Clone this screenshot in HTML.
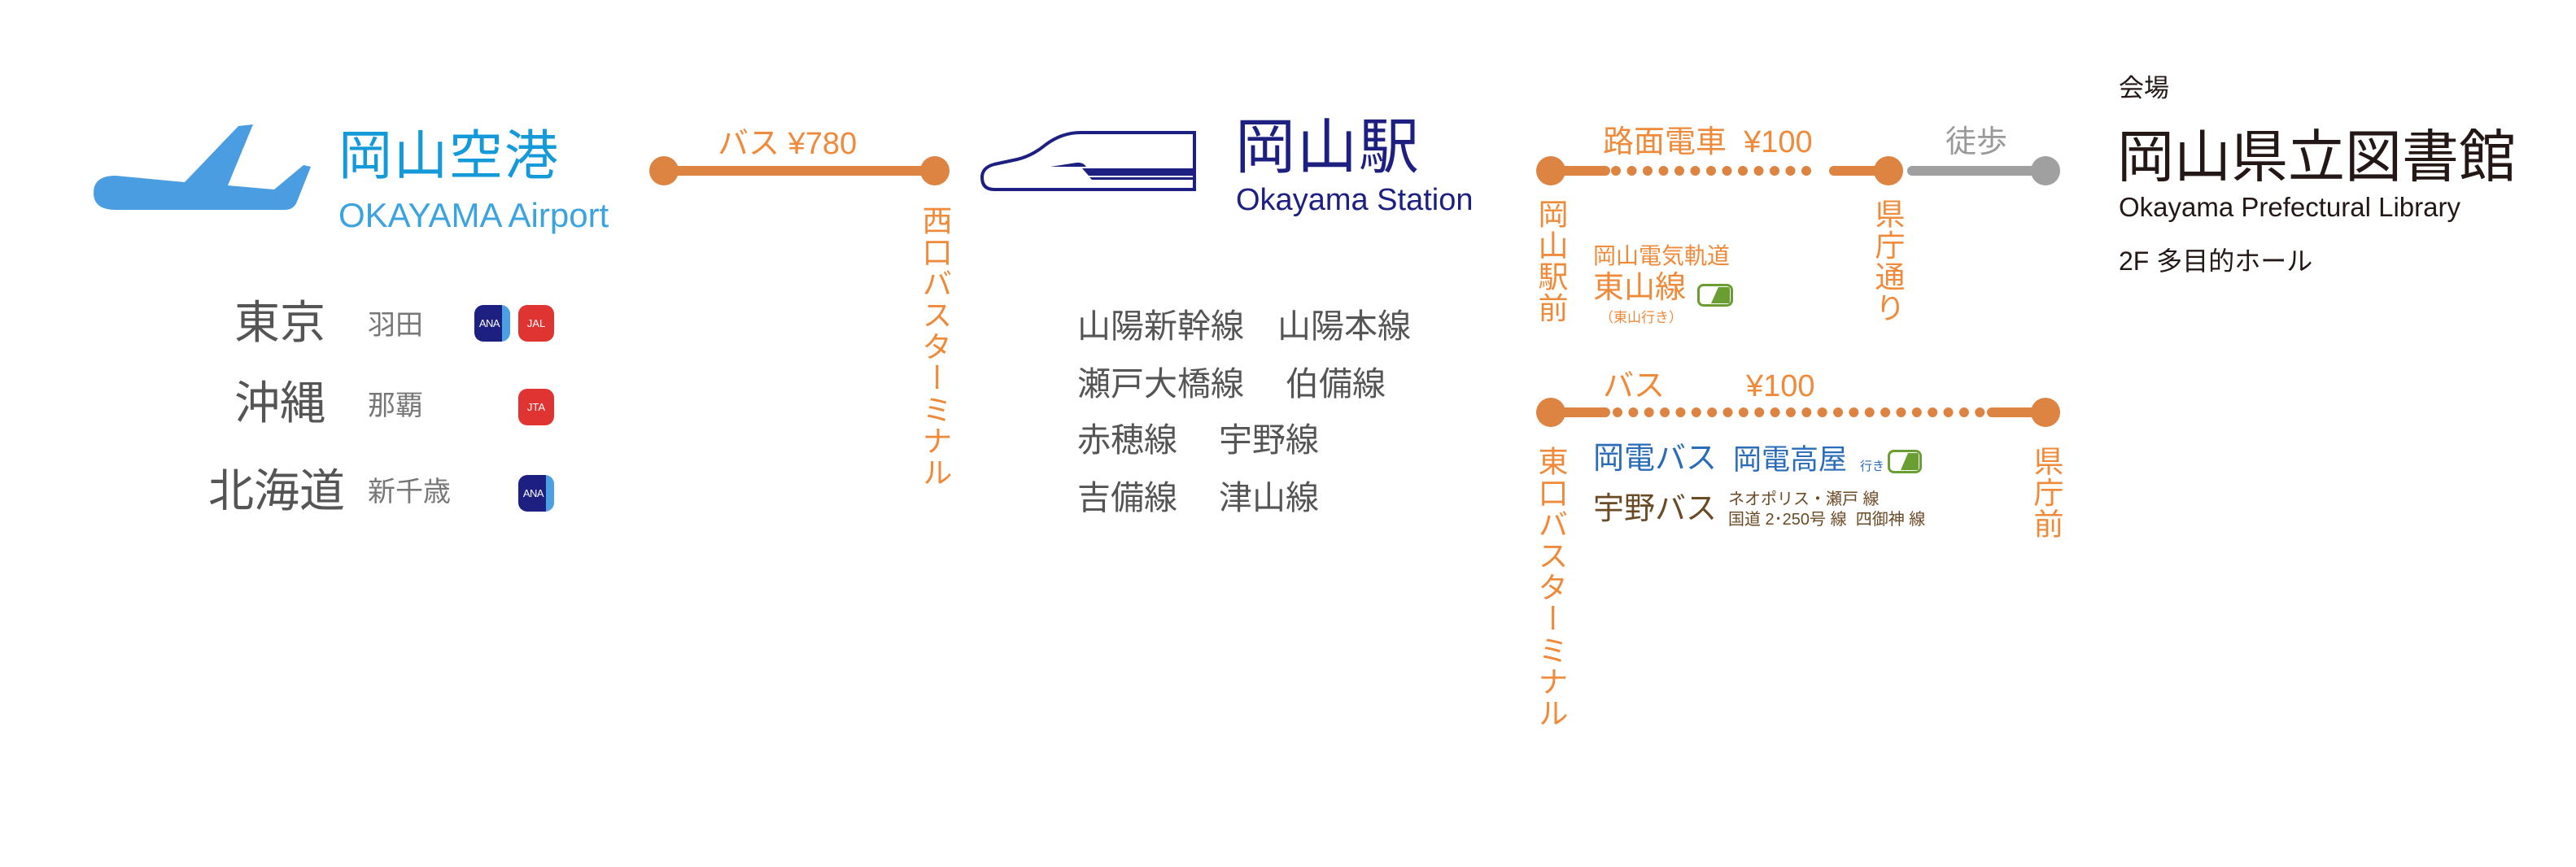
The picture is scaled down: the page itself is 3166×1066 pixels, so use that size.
<!DOCTYPE html>
<html><head><meta charset="utf-8">
<style>
html,body{margin:0;padding:0;background:#fff;}
body{width:3166px;height:1066px;position:relative;overflow:hidden;font-family:"Liberation Sans","Noto Sans CJK JP",sans-serif;}
.t{position:absolute;white-space:nowrap;line-height:1;}
.v{position:absolute;writing-mode:vertical-rl;text-orientation:upright;line-height:1;white-space:nowrap;}
.o{color:#ef8a3a;}
.badge{position:absolute;width:44px;height:45px;border-radius:11px;color:#fff;font-size:13px;display:flex;align-items:center;justify-content:center;overflow:hidden;font-family:"Liberation Sans",sans-serif;}
.badge span{margin-right:7px;letter-spacing:-0.5px}
</style></head><body>
<svg width="3166" height="1066" style="position:absolute;left:0;top:0">
<path d="M142 216 L227 224 L293 155 L311 153 L280 228 L337 233 L373 203 L382 205 L365 248 Q361 258 350 258 L142 258 Q115 258 115 237 Q115 216 142 216 Z" fill="#4a9de0"/>
<line x1="816" y1="210" x2="1149" y2="210" stroke="#dd8442" stroke-width="12"/>
<circle cx="816" cy="210" r="18" fill="#dd8442"/><circle cx="1149" cy="210" r="18" fill="#dd8442"/>
<path d="M1468 163 L1328 163 Q1305 163 1285 178 Q1268 192 1250 196 L1222 202 Q1207 206 1207 218 Q1207 233 1222 233 L1468 233 Z" fill="none" stroke="#1d2080" stroke-width="4"/>
<path d="M1291 205 L1323 200 Q1331 199 1335 205 Z" fill="#1d2080"/>
<path d="M1330 207 L1468 207 L1468 216 L1338 216 Z" fill="#1d2080"/>
<path d="M1339 218 L1468 218 L1468 221 L1342 221 Z" fill="#1d2080"/>
<line x1="1906" y1="210" x2="1973" y2="210" stroke="#dd8442" stroke-width="12" stroke-linecap="round"/>
<line x1="1986" y1="210" x2="2239" y2="210" stroke="#dd8442" stroke-width="12" stroke-linecap="round" stroke-dasharray="0 19.5"/>
<line x1="2254" y1="210" x2="2321" y2="210" stroke="#dd8442" stroke-width="12" stroke-linecap="round"/>
<circle cx="1906" cy="210" r="18" fill="#dd8442"/><circle cx="2321" cy="210" r="18" fill="#dd8442"/>
<line x1="2350" y1="210" x2="2514" y2="210" stroke="#a0a0a0" stroke-width="12" stroke-linecap="round"/>
<circle cx="2514" cy="210" r="18" fill="#a0a0a0"/>
<line x1="1906" y1="507" x2="1973" y2="507" stroke="#dd8442" stroke-width="12" stroke-linecap="round"/>
<line x1="1988" y1="507" x2="2434" y2="507" stroke="#dd8442" stroke-width="12" stroke-linecap="round" stroke-dasharray="0 19.36"/>
<line x1="2448" y1="507" x2="2514" y2="507" stroke="#dd8442" stroke-width="12" stroke-linecap="round"/>
<circle cx="1906" cy="507" r="18" fill="#dd8442"/><circle cx="2514" cy="507" r="18" fill="#dd8442"/>
<rect x="2087.5" y="350.5" width="41" height="25" rx="6" fill="#fff" stroke="#6a9e32" stroke-width="3"/>
<path d="M2112 353 L2124 353 Q2126 353 2126 356 L2126 371 Q2126 373 2124 373 L2103 373 Z" fill="#6a9e32"/>
<rect x="2321.5" y="554.5" width="39" height="26" rx="6" fill="#fff" stroke="#6a9e32" stroke-width="3"/>
<path d="M2345 557 L2356 557 Q2358 557 2358 560 L2358 575 Q2358 578 2356 578 L2336 578 Z" fill="#6a9e32"/>
</svg>

<div class="t" style="left:416px;top:158px;font-size:66px;color:#149ad8;letter-spacing:2px">岡山空港</div>
<div class="t" style="left:416px;top:244px;font-size:42px;color:#3aa3e0">OKAYAMA Airport</div>
<div class="t o" style="left:882px;top:158px;font-size:38px">バス ¥780</div>
<div class="v o" style="left:1130px;top:252px;font-size:37px;letter-spacing:1.7px">西口バスターミナル</div>

<div class="t" style="left:288px;top:369px;font-size:56px;color:#555">東京</div>
<div class="t" style="left:452px;top:383px;font-size:34px;color:#777">羽田</div>
<div class="t" style="left:288px;top:468px;font-size:56px;color:#555">沖縄</div>
<div class="t" style="left:452px;top:482px;font-size:34px;color:#777">那覇</div>
<div class="t" style="left:256px;top:576px;font-size:56px;color:#555">北海道</div>
<div class="t" style="left:452px;top:588px;font-size:34px;color:#777">新千歳</div>

<div class="badge" style="left:583px;top:375px;background:linear-gradient(90deg,#1d2080 0,#1d2080 77%,#4aa0e2 77%)"><span>ANA</span></div>
<div class="badge" style="left:637px;top:375px;background:#e03433">JAL</div>
<div class="badge" style="left:637px;top:478px;background:#e03433">JTA</div>
<div class="badge" style="left:637px;top:584px;background:linear-gradient(90deg,#1d2080 0,#1d2080 77%,#4aa0e2 77%)"><span>ANA</span></div>

<div class="t" style="left:1518px;top:144px;font-size:74px;color:#1d2080;letter-spacing:2px">岡山駅</div>
<div class="t" style="left:1519px;top:227px;font-size:38px;color:#1d2080">Okayama Station</div>
<div class="t" style="left:1324px;top:381px;font-size:41px;color:#555">山陽新幹線</div>
<div class="t" style="left:1570px;top:381px;font-size:41px;color:#555">山陽本線</div>
<div class="t" style="left:1324px;top:452px;font-size:41px;color:#555">瀬戸大橋線</div>
<div class="t" style="left:1580px;top:452px;font-size:41px;color:#555">伯備線</div>
<div class="t" style="left:1324px;top:521px;font-size:41px;color:#555">赤穂線</div>
<div class="t" style="left:1498px;top:521px;font-size:41px;color:#555">宇野線</div>
<div class="t" style="left:1324px;top:592px;font-size:41px;color:#555">吉備線</div>
<div class="t" style="left:1498px;top:592px;font-size:41px;color:#555">津山線</div>

<div class="t o" style="left:1970px;top:156px;font-size:38px">路面電車&nbsp;&nbsp;¥100</div>
<div class="t" style="left:2391px;top:156px;font-size:38px;color:#999">徒歩</div>
<div class="v o" style="left:1887px;top:244px;font-size:37px;letter-spacing:1.5px">岡山駅前</div>
<div class="v o" style="left:2301px;top:244px;font-size:37px;letter-spacing:1.5px">県庁通り</div>
<div class="t o" style="left:1958px;top:301px;font-size:28px">岡山電気軌道</div>
<div class="t o" style="left:1958px;top:335px;font-size:38px">東山線</div>
<div class="t o" style="left:1966px;top:382px;font-size:17px">（東山行き）</div>

<div class="t o" style="left:1970px;top:456px;font-size:38px">バス</div>
<div class="t o" style="left:2146px;top:456px;font-size:38px">¥100</div>
<div class="v o" style="left:1887px;top:548px;font-size:37px;letter-spacing:1.7px">東口バスターミナル</div>
<div class="v o" style="left:2496px;top:548px;font-size:37px;letter-spacing:1.5px">県庁前</div>
<div class="t" style="left:1958px;top:545px;font-size:38px;color:#2a6cb8">岡電バス</div>
<div class="t" style="left:2130px;top:548px;font-size:35px;color:#2a6cb8">岡電高屋</div>
<div class="t" style="left:2286px;top:566px;font-size:15px;color:#2a6cb8">行き</div>
<div class="t" style="left:1958px;top:607px;font-size:38px;color:#6b4a26">宇野バス</div>
<div class="t" style="left:2124px;top:604px;font-size:20px;color:#6b4a26">ネオポリス・瀬戸 線</div>
<div class="t" style="left:2124px;top:629px;font-size:20px;color:#6b4a26">国道 2･250号 線&nbsp;&nbsp;四御神 線</div>

<div class="t" style="left:2604px;top:93px;font-size:31px;color:#231815">会場</div>
<div class="t" style="left:2602px;top:158px;font-size:70px;color:#231815">岡山県立図書館</div>
<div class="t" style="left:2604px;top:238px;font-size:33px;color:#231815">Okayama Prefectural Library</div>
<div class="t" style="left:2604px;top:305px;font-size:32px;color:#231815">2F 多目的ホール</div>
</body></html>
